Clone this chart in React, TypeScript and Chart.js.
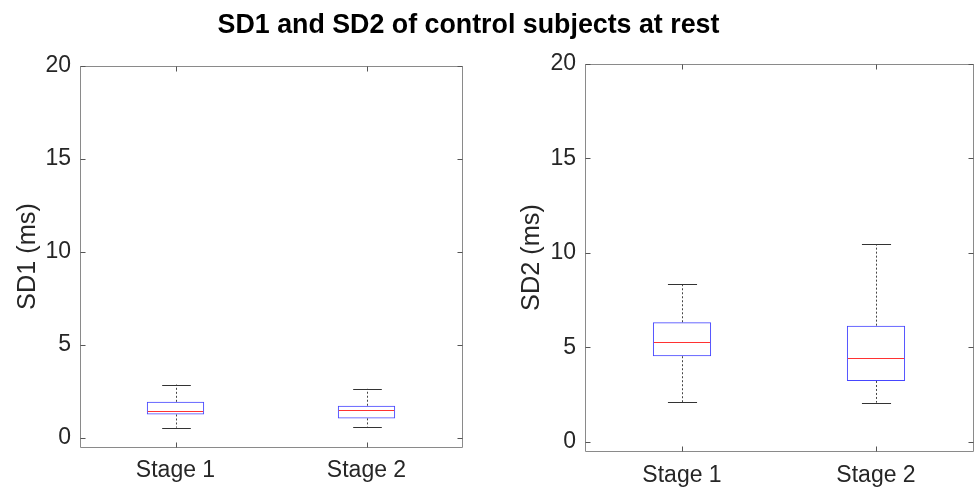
import React, { useEffect, useRef } from "react";
import { Chart, registerables } from "chart.js";

Chart.register(...registerables);

const stages = ["Stage 1", "Stage 2"];
const yTicks = [0, 5, 10, 15, 20];

const sd1Min = [0.54, 0.59];
const sd1Q1 = [1.25, 1.04];
const sd1Median = [1.43, 1.47];
const sd1Q3 = [1.93, 1.72];
const sd1Max = [2.86, 2.63];

const sd2Min = [2.08, 2.06];
const sd2Q1 = [4.52, 3.21];
const sd2Median = [5.29, 4.41];
const sd2Q3 = [6.32, 6.14];
const sd2Max = [8.36, 10.46];

const FONT = "'Liberation Sans', Arial, Helvetica, sans-serif";
const TEXT = "#262626";

const px = (v: number) => Math.round(v) + 0.5;

const boxPlugin = {
  id: "boxWhisker",
  afterDatasetsDraw(chart: any, _args: any, opts: any) {
    const { ctx } = chart;
    const x = chart.scales.x;
    const y = chart.scales.y;
    const meta = chart.getDatasetMeta(0);
    ctx.save();
    ctx.lineWidth = 1;
    for (let i = 0; i < opts.median.length; i++) {
      const cx = px(x.getPixelForValue(i));
      const bar: any = meta.data[i];
      const half = bar.width / 2;
      const capHalf = half / 2;
      ctx.strokeStyle = "#444";
      ctx.setLineDash([2, 2]);
      ctx.beginPath();
      ctx.moveTo(cx, y.getPixelForValue(opts.q3[i]));
      ctx.lineTo(cx, y.getPixelForValue(opts.max[i]));
      ctx.moveTo(cx, y.getPixelForValue(opts.q1[i]));
      ctx.lineTo(cx, y.getPixelForValue(opts.min[i]));
      ctx.stroke();
      ctx.setLineDash([]);
      ctx.strokeStyle = "#333";
      ctx.beginPath();
      const yMax = px(y.getPixelForValue(opts.max[i]));
      const yMin = px(y.getPixelForValue(opts.min[i]));
      ctx.moveTo(cx - capHalf, yMax);
      ctx.lineTo(cx + capHalf, yMax);
      ctx.moveTo(cx - capHalf, yMin);
      ctx.lineTo(cx + capHalf, yMin);
      ctx.stroke();
      ctx.strokeStyle = "rgb(255,50,50)";
      ctx.beginPath();
      const yMed = px(y.getPixelForValue(opts.median[i]));
      ctx.moveTo(bar.x - half + 1, yMed);
      ctx.lineTo(bar.x + half - 1, yMed);
      ctx.stroke();
    }
    ctx.restore();
  },
};

const framePlugin = {
  id: "matlabFrame",
  afterDraw(chart: any) {
    const { ctx, chartArea: a } = chart;
    const x = chart.scales.x;
    const y = chart.scales.y;
    const L = px(a.left), R = px(a.right), T = px(a.top), B = px(a.bottom);
    const tl = 5;
    ctx.save();
    ctx.strokeStyle = "#8a8a8a";
    ctx.lineWidth = 1;
    ctx.beginPath();
    ctx.rect(L, T, R - L, B - T);
    ctx.stroke();
    ctx.strokeStyle = "#555";
    ctx.beginPath();
    yTicks.forEach((v) => {
      const yy = px(y.getPixelForValue(v));
      ctx.moveTo(L, yy);
      ctx.lineTo(L + tl, yy);
      ctx.moveTo(R, yy);
      ctx.lineTo(R - tl, yy);
    });
    stages.forEach((_s, i) => {
      const xx = px(x.getPixelForValue(i));
      ctx.moveTo(xx, B);
      ctx.lineTo(xx, B - tl);
      ctx.moveTo(xx, T);
      ctx.lineTo(xx, T + tl);
    });
    ctx.stroke();
    ctx.restore();
  },
};

type PanelProps = {
  label: string;
  min: number[];
  q1: number[];
  median: number[];
  q3: number[];
  max: number[];
  padLeft: number;
  padTop: number;
  padRight: number;
  yWidth: number;
  xHeight: number;
  xPad: number;
  width: number;
  height: number;
};

function Panel(p: PanelProps) {
  const ref = useRef<HTMLCanvasElement | null>(null);
  useEffect(() => {
    if (!ref.current) return;
    const chart = new Chart(ref.current, {
      type: "bar",
      data: {
        labels: stages,
        datasets: [
          {
            data: p.q1.map((v, i) => [v, p.q3[i]]) as any,
            backgroundColor: "rgba(0,0,0,0)",
            borderColor: "rgb(70,70,255)",
            borderWidth: 1,
            borderSkipped: false,
            categoryPercentage: 1,
            barPercentage: 0.3,
          },
        ],
      },
      options: {
        responsive: false,
        animation: false,
        layout: {
          padding: { left: p.padLeft, top: p.padTop, right: p.padRight, bottom: 0 },
        },
        plugins: {
          legend: { display: false },
          tooltip: { enabled: false },
          title: { display: false },
          boxWhisker: { min: p.min, q1: p.q1, median: p.median, q3: p.q3, max: p.max },
        } as any,
        scales: {
          x: {
            type: "category",
            offset: true,
            grid: { display: false, drawTicks: false },
            border: { display: false },
            ticks: {
              color: TEXT,
              padding: p.xPad,
              font: { family: FONT, size: 23 },
              maxRotation: 0,
            },
            afterFit: (s: any) => {
              s.height = p.xHeight;
            },
          },
          y: {
            type: "linear",
            min: -0.5,
            max: 20,
            grid: { display: false, drawTicks: false },
            border: { display: false },
            afterBuildTicks: (s: any) => {
              s.ticks = yTicks.map((v) => ({ value: v }));
            },
            ticks: {
              color: TEXT,
              padding: 9,
              font: { family: FONT, size: 23 },
            },
            title: {
              display: true,
              text: p.label,
              color: TEXT,
              padding: 0,
              font: { family: FONT, size: 25.3 },
            },
            afterFit: (s: any) => {
              s.width = p.yWidth;
            },
          },
        },
      },
      plugins: [boxPlugin, framePlugin],
    });
    return () => chart.destroy();
  }, []);
  return <canvas ref={ref} width={p.width} height={p.height} style={{ display: "block" }} />;
}

export default function App() {
  return (
    <div
      style={{
        position: "fixed",
        left: 0,
        top: 0,
        width: 974,
        height: 489,
        background: "#fff",
        overflow: "hidden",
      }}
    >
      <div style={{ position: "absolute", left: 0, top: 0 }}>
        <Panel
          label="SD1 (ms)"
          min={sd1Min}
          q1={sd1Q1}
          median={sd1Median}
          q3={sd1Q3}
          max={sd1Max}
          padLeft={13}
          padTop={66}
          padRight={18}
          yWidth={67}
          xHeight={42}
          xPad={10}
          width={480}
          height={489}
        />
      </div>
      <div style={{ position: "absolute", left: 480, top: 0 }}>
        <Panel
          label="SD2 (ms)"
          min={sd2Min}
          q1={sd2Q1}
          median={sd2Median}
          q3={sd2Q3}
          max={sd2Max}
          padLeft={37}
          padTop={64}
          padRight={1}
          yWidth={68}
          xHeight={38}
          xPad={11}
          width={494}
          height={489}
        />
      </div>
      <div
        style={{
          position: "absolute",
          left: 0,
          top: 9,
          width: 937,
          textAlign: "center",
          fontFamily: FONT,
          fontWeight: "bold",
          fontSize: 26.8,
          lineHeight: "30px",
          color: "#000",
          whiteSpace: "nowrap",
        }}
      >
        SD1 and SD2 of control subjects at rest
      </div>
    </div>
  );
}
